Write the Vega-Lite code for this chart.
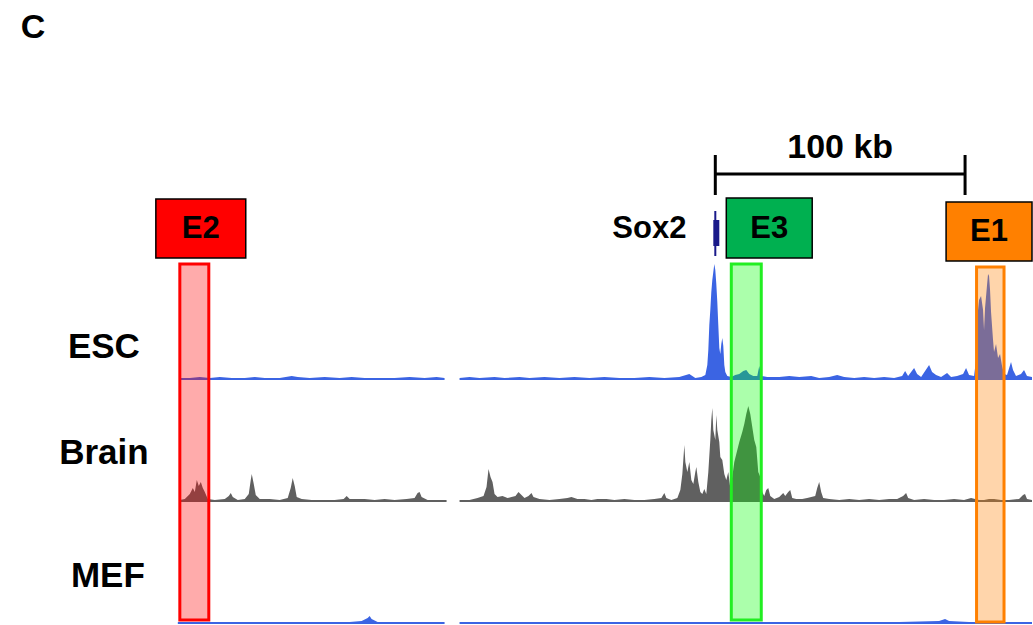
{
"$schema":"https://vega.github.io/schema/vega-lite/v6.json",
"width":1033,"height":625,"padding":0,
"autosize":{"type":"fit","contains":"padding"},
"config":{"view":{"stroke":null},"text":{"font":"Liberation Sans","fontWeight":"bold"}},
"datasets":{
"signal":[
{"track":"ESC","seg":1,"pos":72,"v":2},{"track":"ESC","seg":1,"pos":76,"v":2},{"track":"ESC","seg":1,"pos":80,"v":3},{"track":"ESC","seg":1,"pos":84,"v":2},{"track":"ESC","seg":1,"pos":88,"v":3},{"track":"ESC","seg":1,"pos":92.8,"v":2},{"track":"ESC","seg":1,"pos":98,"v":2},{"track":"ESC","seg":1,"pos":102,"v":3},{"track":"ESC","seg":1,"pos":106,"v":2},{"track":"ESC","seg":1,"pos":112,"v":2},{"track":"ESC","seg":1,"pos":116.8,"v":4},{"track":"ESC","seg":1,"pos":119.2,"v":3},{"track":"ESC","seg":1,"pos":124,"v":2},{"track":"ESC","seg":1,"pos":130,"v":3},{"track":"ESC","seg":1,"pos":136,"v":2},{"track":"ESC","seg":1,"pos":140.8,"v":3},{"track":"ESC","seg":1,"pos":146,"v":2},{"track":"ESC","seg":1,"pos":152,"v":2},{"track":"ESC","seg":1,"pos":158,"v":2},{"track":"ESC","seg":1,"pos":164,"v":3},{"track":"ESC","seg":1,"pos":170,"v":2},{"track":"ESC","seg":1,"pos":174.8,"v":3},{"track":"ESC","seg":1,"pos":178,"v":2},
{"track":"ESC","seg":2,"pos":184,"v":2},{"track":"ESC","seg":2,"pos":188,"v":3},{"track":"ESC","seg":2,"pos":192,"v":2},{"track":"ESC","seg":2,"pos":198,"v":3},{"track":"ESC","seg":2,"pos":202,"v":2},{"track":"ESC","seg":2,"pos":208,"v":3},{"track":"ESC","seg":2,"pos":212,"v":2},{"track":"ESC","seg":2,"pos":218,"v":3},{"track":"ESC","seg":2,"pos":224,"v":2},{"track":"ESC","seg":2,"pos":230,"v":3},{"track":"ESC","seg":2,"pos":236,"v":2},{"track":"ESC","seg":2,"pos":242,"v":3},{"track":"ESC","seg":2,"pos":248,"v":2},{"track":"ESC","seg":2,"pos":254,"v":2},{"track":"ESC","seg":2,"pos":260,"v":3},{"track":"ESC","seg":2,"pos":266,"v":2},{"track":"ESC","seg":2,"pos":272,"v":3},{"track":"ESC","seg":2,"pos":276,"v":6},{"track":"ESC","seg":2,"pos":278.4,"v":2},{"track":"ESC","seg":2,"pos":280.8,"v":3},{"track":"ESC","seg":2,"pos":282.4,"v":5},{"track":"ESC","seg":2,"pos":283.2,"v":15},{"track":"ESC","seg":2,"pos":283.6,"v":30},{"track":"ESC","seg":2,"pos":284,"v":55},{"track":"ESC","seg":2,"pos":284.4,"v":70},{"track":"ESC","seg":2,"pos":284.8,"v":88},{"track":"ESC","seg":2,"pos":285.2,"v":100},{"track":"ESC","seg":2,"pos":285.6,"v":108},{"track":"ESC","seg":2,"pos":286,"v":116},{"track":"ESC","seg":2,"pos":286.4,"v":110},{"track":"ESC","seg":2,"pos":286.8,"v":96},{"track":"ESC","seg":2,"pos":287.2,"v":78},{"track":"ESC","seg":2,"pos":287.6,"v":55},{"track":"ESC","seg":2,"pos":288,"v":32},{"track":"ESC","seg":2,"pos":288.4,"v":26},{"track":"ESC","seg":2,"pos":288.8,"v":36},{"track":"ESC","seg":2,"pos":289.2,"v":42},{"track":"ESC","seg":2,"pos":289.6,"v":34},{"track":"ESC","seg":2,"pos":290,"v":15},{"track":"ESC","seg":2,"pos":290.4,"v":8},{"track":"ESC","seg":2,"pos":291.2,"v":4},{"track":"ESC","seg":2,"pos":292.8,"v":3},{"track":"ESC","seg":2,"pos":294.4,"v":5},{"track":"ESC","seg":2,"pos":296,"v":6},{"track":"ESC","seg":2,"pos":297.6,"v":9},{"track":"ESC","seg":2,"pos":298.8,"v":10},{"track":"ESC","seg":2,"pos":300,"v":6},{"track":"ESC","seg":2,"pos":301.6,"v":4},{"track":"ESC","seg":2,"pos":303.2,"v":4},{"track":"ESC","seg":2,"pos":304,"v":14},{"track":"ESC","seg":2,"pos":304.8,"v":4},{"track":"ESC","seg":2,"pos":307.2,"v":3},{"track":"ESC","seg":2,"pos":312,"v":3},{"track":"ESC","seg":2,"pos":316,"v":4},{"track":"ESC","seg":2,"pos":320,"v":3},{"track":"ESC","seg":2,"pos":324.8,"v":4},{"track":"ESC","seg":2,"pos":328,"v":2},{"track":"ESC","seg":2,"pos":332,"v":3},{"track":"ESC","seg":2,"pos":335.2,"v":5},{"track":"ESC","seg":2,"pos":338,"v":3},{"track":"ESC","seg":2,"pos":342,"v":2},{"track":"ESC","seg":2,"pos":346,"v":3},{"track":"ESC","seg":2,"pos":350,"v":2},{"track":"ESC","seg":2,"pos":354,"v":3},{"track":"ESC","seg":2,"pos":358,"v":2},{"track":"ESC","seg":2,"pos":361.2,"v":4},{"track":"ESC","seg":2,"pos":362.4,"v":9},{"track":"ESC","seg":2,"pos":363.6,"v":4},{"track":"ESC","seg":2,"pos":366,"v":12},{"track":"ESC","seg":2,"pos":367.2,"v":6},{"track":"ESC","seg":2,"pos":368.8,"v":3},{"track":"ESC","seg":2,"pos":372,"v":15},{"track":"ESC","seg":2,"pos":373.2,"v":8},{"track":"ESC","seg":2,"pos":374.8,"v":5},{"track":"ESC","seg":2,"pos":376.8,"v":3},{"track":"ESC","seg":2,"pos":379.2,"v":7},{"track":"ESC","seg":2,"pos":380.8,"v":3},{"track":"ESC","seg":2,"pos":383.2,"v":4},{"track":"ESC","seg":2,"pos":385.6,"v":6},{"track":"ESC","seg":2,"pos":386.8,"v":12},{"track":"ESC","seg":2,"pos":388,"v":5},{"track":"ESC","seg":2,"pos":390,"v":4},{"track":"ESC","seg":2,"pos":390.8,"v":20},{"track":"ESC","seg":2,"pos":391.2,"v":60},{"track":"ESC","seg":2,"pos":392,"v":80},{"track":"ESC","seg":2,"pos":392.8,"v":84},{"track":"ESC","seg":2,"pos":393.6,"v":70},{"track":"ESC","seg":2,"pos":394,"v":50},{"track":"ESC","seg":2,"pos":394.4,"v":72},{"track":"ESC","seg":2,"pos":395.2,"v":95},{"track":"ESC","seg":2,"pos":395.6,"v":106},{"track":"ESC","seg":2,"pos":396,"v":104},{"track":"ESC","seg":2,"pos":396.4,"v":90},{"track":"ESC","seg":2,"pos":396.8,"v":68},{"track":"ESC","seg":2,"pos":397.6,"v":40},{"track":"ESC","seg":2,"pos":398,"v":28},{"track":"ESC","seg":2,"pos":398.8,"v":36},{"track":"ESC","seg":2,"pos":399.6,"v":22},{"track":"ESC","seg":2,"pos":400.4,"v":26},{"track":"ESC","seg":2,"pos":401.2,"v":14},{"track":"ESC","seg":2,"pos":402,"v":6},{"track":"ESC","seg":2,"pos":403.2,"v":5},{"track":"ESC","seg":2,"pos":404.8,"v":18},{"track":"ESC","seg":2,"pos":405.6,"v":10},{"track":"ESC","seg":2,"pos":406.8,"v":4},{"track":"ESC","seg":2,"pos":408.8,"v":6},{"track":"ESC","seg":2,"pos":410,"v":10},{"track":"ESC","seg":2,"pos":411.2,"v":4},{"track":"ESC","seg":2,"pos":413.2,"v":3},
{"track":"Brain","seg":1,"pos":72,"v":2},{"track":"Brain","seg":1,"pos":74,"v":3},{"track":"Brain","seg":1,"pos":76,"v":8},{"track":"Brain","seg":1,"pos":77.2,"v":14},{"track":"Brain","seg":1,"pos":78,"v":10},{"track":"Brain","seg":1,"pos":78.8,"v":22},{"track":"Brain","seg":1,"pos":79.6,"v":16},{"track":"Brain","seg":1,"pos":80.4,"v":20},{"track":"Brain","seg":1,"pos":81.2,"v":14},{"track":"Brain","seg":1,"pos":82,"v":10},{"track":"Brain","seg":1,"pos":83.2,"v":3},{"track":"Brain","seg":1,"pos":86,"v":2},{"track":"Brain","seg":1,"pos":90,"v":3},{"track":"Brain","seg":1,"pos":91.6,"v":6},{"track":"Brain","seg":1,"pos":92.4,"v":9},{"track":"Brain","seg":1,"pos":93.2,"v":5},{"track":"Brain","seg":1,"pos":95.2,"v":2},{"track":"Brain","seg":1,"pos":98,"v":3},{"track":"Brain","seg":1,"pos":99.6,"v":8},{"track":"Brain","seg":1,"pos":100.4,"v":22},{"track":"Brain","seg":1,"pos":100.8,"v":28},{"track":"Brain","seg":1,"pos":101.6,"v":18},{"track":"Brain","seg":1,"pos":102.4,"v":7},{"track":"Brain","seg":1,"pos":104,"v":3},{"track":"Brain","seg":1,"pos":108,"v":3},{"track":"Brain","seg":1,"pos":112,"v":2},{"track":"Brain","seg":1,"pos":115.2,"v":4},{"track":"Brain","seg":1,"pos":116.4,"v":14},{"track":"Brain","seg":1,"pos":117.2,"v":24},{"track":"Brain","seg":1,"pos":118,"v":16},{"track":"Brain","seg":1,"pos":118.8,"v":5},{"track":"Brain","seg":1,"pos":120.8,"v":3},{"track":"Brain","seg":1,"pos":124.8,"v":2},{"track":"Brain","seg":1,"pos":130,"v":2},{"track":"Brain","seg":1,"pos":134,"v":2},{"track":"Brain","seg":1,"pos":137.6,"v":3},{"track":"Brain","seg":1,"pos":138.8,"v":6},{"track":"Brain","seg":1,"pos":140,"v":3},{"track":"Brain","seg":1,"pos":143.2,"v":3},{"track":"Brain","seg":1,"pos":146,"v":3},{"track":"Brain","seg":1,"pos":150,"v":2},{"track":"Brain","seg":1,"pos":154,"v":3},{"track":"Brain","seg":1,"pos":158,"v":2},{"track":"Brain","seg":1,"pos":162.8,"v":3},{"track":"Brain","seg":1,"pos":166,"v":4},{"track":"Brain","seg":1,"pos":167.2,"v":9},{"track":"Brain","seg":1,"pos":168,"v":10},{"track":"Brain","seg":1,"pos":168.8,"v":5},{"track":"Brain","seg":1,"pos":171.2,"v":2},{"track":"Brain","seg":1,"pos":176,"v":2},{"track":"Brain","seg":1,"pos":178.8,"v":2},
{"track":"Brain","seg":2,"pos":184,"v":2},{"track":"Brain","seg":2,"pos":188,"v":2},{"track":"Brain","seg":2,"pos":191.2,"v":4},{"track":"Brain","seg":2,"pos":193.6,"v":6},{"track":"Brain","seg":2,"pos":194.8,"v":15},{"track":"Brain","seg":2,"pos":195.6,"v":33},{"track":"Brain","seg":2,"pos":196.4,"v":25},{"track":"Brain","seg":2,"pos":197.2,"v":20},{"track":"Brain","seg":2,"pos":198,"v":8},{"track":"Brain","seg":2,"pos":199.2,"v":5},{"track":"Brain","seg":2,"pos":201.2,"v":6},{"track":"Brain","seg":2,"pos":203.2,"v":4},{"track":"Brain","seg":2,"pos":204.8,"v":5},{"track":"Brain","seg":2,"pos":206.4,"v":6},{"track":"Brain","seg":2,"pos":207.6,"v":10},{"track":"Brain","seg":2,"pos":208.4,"v":8},{"track":"Brain","seg":2,"pos":210,"v":4},{"track":"Brain","seg":2,"pos":211.6,"v":6},{"track":"Brain","seg":2,"pos":212.8,"v":9},{"track":"Brain","seg":2,"pos":213.6,"v":5},{"track":"Brain","seg":2,"pos":216,"v":3},{"track":"Brain","seg":2,"pos":220,"v":2},{"track":"Brain","seg":2,"pos":224,"v":3},{"track":"Brain","seg":2,"pos":227.2,"v":4},{"track":"Brain","seg":2,"pos":228.8,"v":5},{"track":"Brain","seg":2,"pos":231.2,"v":3},{"track":"Brain","seg":2,"pos":234,"v":3},{"track":"Brain","seg":2,"pos":236.8,"v":2},{"track":"Brain","seg":2,"pos":239.2,"v":3},{"track":"Brain","seg":2,"pos":242.8,"v":3},{"track":"Brain","seg":2,"pos":246,"v":2},{"track":"Brain","seg":2,"pos":250,"v":3},{"track":"Brain","seg":2,"pos":254,"v":2},{"track":"Brain","seg":2,"pos":258,"v":2},{"track":"Brain","seg":2,"pos":262,"v":3},{"track":"Brain","seg":2,"pos":264.8,"v":4},{"track":"Brain","seg":2,"pos":266,"v":9},{"track":"Brain","seg":2,"pos":266.8,"v":4},{"track":"Brain","seg":2,"pos":268.8,"v":2},{"track":"Brain","seg":2,"pos":271.2,"v":4},{"track":"Brain","seg":2,"pos":272.4,"v":12},{"track":"Brain","seg":2,"pos":273.2,"v":28},{"track":"Brain","seg":2,"pos":274,"v":57},{"track":"Brain","seg":2,"pos":274.4,"v":40},{"track":"Brain","seg":2,"pos":275.2,"v":30},{"track":"Brain","seg":2,"pos":276,"v":40},{"track":"Brain","seg":2,"pos":276.8,"v":22},{"track":"Brain","seg":2,"pos":277.6,"v":18},{"track":"Brain","seg":2,"pos":278.4,"v":30},{"track":"Brain","seg":2,"pos":278.8,"v":35},{"track":"Brain","seg":2,"pos":279.6,"v":20},{"track":"Brain","seg":2,"pos":280.4,"v":10},{"track":"Brain","seg":2,"pos":281.2,"v":8},{"track":"Brain","seg":2,"pos":282,"v":13},{"track":"Brain","seg":2,"pos":282.8,"v":8},{"track":"Brain","seg":2,"pos":283.6,"v":30},{"track":"Brain","seg":2,"pos":284.4,"v":62},{"track":"Brain","seg":2,"pos":284.8,"v":82},{"track":"Brain","seg":2,"pos":285.2,"v":94},{"track":"Brain","seg":2,"pos":285.6,"v":72},{"track":"Brain","seg":2,"pos":286.4,"v":62},{"track":"Brain","seg":2,"pos":286.8,"v":87},{"track":"Brain","seg":2,"pos":287.2,"v":72},{"track":"Brain","seg":2,"pos":288,"v":60},{"track":"Brain","seg":2,"pos":288.4,"v":45},{"track":"Brain","seg":2,"pos":289.2,"v":42},{"track":"Brain","seg":2,"pos":290,"v":28},{"track":"Brain","seg":2,"pos":290.8,"v":22},{"track":"Brain","seg":2,"pos":291.6,"v":30},{"track":"Brain","seg":2,"pos":292.4,"v":14},{"track":"Brain","seg":2,"pos":293.2,"v":25},{"track":"Brain","seg":2,"pos":294,"v":40},{"track":"Brain","seg":2,"pos":294.8,"v":48},{"track":"Brain","seg":2,"pos":296,"v":60},{"track":"Brain","seg":2,"pos":297.2,"v":70},{"track":"Brain","seg":2,"pos":298,"v":78},{"track":"Brain","seg":2,"pos":298.8,"v":88},{"track":"Brain","seg":2,"pos":299.6,"v":96},{"track":"Brain","seg":2,"pos":300.4,"v":88},{"track":"Brain","seg":2,"pos":301.2,"v":75},{"track":"Brain","seg":2,"pos":302,"v":62},{"track":"Brain","seg":2,"pos":302.8,"v":55},{"track":"Brain","seg":2,"pos":303.6,"v":30},{"track":"Brain","seg":2,"pos":304.4,"v":25},{"track":"Brain","seg":2,"pos":305.2,"v":10},{"track":"Brain","seg":2,"pos":306,"v":6},{"track":"Brain","seg":2,"pos":306.8,"v":12},{"track":"Brain","seg":2,"pos":307.6,"v":14},{"track":"Brain","seg":2,"pos":308.4,"v":6},{"track":"Brain","seg":2,"pos":310,"v":3},{"track":"Brain","seg":2,"pos":312,"v":5},{"track":"Brain","seg":2,"pos":313.6,"v":9},{"track":"Brain","seg":2,"pos":314.4,"v":6},{"track":"Brain","seg":2,"pos":315.6,"v":10},{"track":"Brain","seg":2,"pos":316.4,"v":12},{"track":"Brain","seg":2,"pos":317.2,"v":4},{"track":"Brain","seg":2,"pos":318.8,"v":3},{"track":"Brain","seg":2,"pos":321.2,"v":3},{"track":"Brain","seg":2,"pos":323.2,"v":4},{"track":"Brain","seg":2,"pos":324.8,"v":5},{"track":"Brain","seg":2,"pos":326.4,"v":6},{"track":"Brain","seg":2,"pos":327.2,"v":14},{"track":"Brain","seg":2,"pos":328,"v":20},{"track":"Brain","seg":2,"pos":328.8,"v":10},{"track":"Brain","seg":2,"pos":329.6,"v":4},{"track":"Brain","seg":2,"pos":332,"v":3},{"track":"Brain","seg":2,"pos":336,"v":2},{"track":"Brain","seg":2,"pos":340,"v":3},{"track":"Brain","seg":2,"pos":344,"v":2},{"track":"Brain","seg":2,"pos":348,"v":3},{"track":"Brain","seg":2,"pos":352,"v":2},{"track":"Brain","seg":2,"pos":356,"v":3},{"track":"Brain","seg":2,"pos":359.2,"v":3},{"track":"Brain","seg":2,"pos":361.6,"v":6},{"track":"Brain","seg":2,"pos":362.8,"v":9},{"track":"Brain","seg":2,"pos":363.6,"v":4},{"track":"Brain","seg":2,"pos":366,"v":2},{"track":"Brain","seg":2,"pos":370,"v":3},{"track":"Brain","seg":2,"pos":374,"v":2},{"track":"Brain","seg":2,"pos":378,"v":2},{"track":"Brain","seg":2,"pos":382,"v":3},{"track":"Brain","seg":2,"pos":386,"v":2},{"track":"Brain","seg":2,"pos":388.8,"v":4},{"track":"Brain","seg":2,"pos":392,"v":2},{"track":"Brain","seg":2,"pos":394,"v":2},{"track":"Brain","seg":2,"pos":396,"v":3},{"track":"Brain","seg":2,"pos":398,"v":3},{"track":"Brain","seg":2,"pos":400.8,"v":2},{"track":"Brain","seg":2,"pos":404,"v":2},{"track":"Brain","seg":2,"pos":408,"v":3},{"track":"Brain","seg":2,"pos":409.6,"v":7},{"track":"Brain","seg":2,"pos":410.4,"v":8},{"track":"Brain","seg":2,"pos":411.2,"v":3},{"track":"Brain","seg":2,"pos":413.2,"v":2},
{"track":"MEF","seg":1,"pos":71.2,"v":2},{"track":"MEF","seg":1,"pos":80,"v":2},{"track":"MEF","seg":1,"pos":92,"v":2},{"track":"MEF","seg":1,"pos":104,"v":2},{"track":"MEF","seg":1,"pos":116,"v":2},{"track":"MEF","seg":1,"pos":128,"v":2},{"track":"MEF","seg":1,"pos":140,"v":2},{"track":"MEF","seg":1,"pos":144.8,"v":3},{"track":"MEF","seg":1,"pos":147.2,"v":6},{"track":"MEF","seg":1,"pos":148,"v":8},{"track":"MEF","seg":1,"pos":148.8,"v":5},{"track":"MEF","seg":1,"pos":151.2,"v":2},{"track":"MEF","seg":1,"pos":160,"v":2},{"track":"MEF","seg":1,"pos":168,"v":2},{"track":"MEF","seg":1,"pos":178,"v":2},
{"track":"MEF","seg":2,"pos":184,"v":2},{"track":"MEF","seg":2,"pos":200,"v":2},{"track":"MEF","seg":2,"pos":216,"v":2},{"track":"MEF","seg":2,"pos":232,"v":2},{"track":"MEF","seg":2,"pos":248,"v":2},{"track":"MEF","seg":2,"pos":264,"v":2},{"track":"MEF","seg":2,"pos":280,"v":2},{"track":"MEF","seg":2,"pos":296,"v":2},{"track":"MEF","seg":2,"pos":312,"v":2},{"track":"MEF","seg":2,"pos":328,"v":2},{"track":"MEF","seg":2,"pos":344,"v":2},{"track":"MEF","seg":2,"pos":360,"v":2},{"track":"MEF","seg":2,"pos":376,"v":3},{"track":"MEF","seg":2,"pos":378.4,"v":5},{"track":"MEF","seg":2,"pos":380,"v":3},{"track":"MEF","seg":2,"pos":388,"v":2},{"track":"MEF","seg":2,"pos":400,"v":2},{"track":"MEF","seg":2,"pos":413.2,"v":2}
],
"regions":[
{"name":"E2","start":72,"end":83.6,"top":264,"bottom":620,"lstart":62.4,"lend":98.4,"ltop":199,"lbottom":258,"lx":80.4,"lmid":229},
{"name":"E3","start":292.8,"end":304.8,"top":264,"bottom":620,"lstart":290.8,"lend":325.2,"ltop":198,"lbottom":258,"lx":308,"lmid":229},
{"name":"E1","start":391,"end":402,"top":267,"bottom":622,"lstart":378.8,"lend":413.2,"ltop":202,"lbottom":261,"lx":396,"lmid":232}
],
"tracks":[
{"label":"ESC","pos":41.6,"row":347},
{"label":"Brain","pos":41.6,"row":453},
{"label":"MEF","pos":43.2,"row":576}
],
"scalebar":[
{"a":286.4,"b":386.4,"r1":174,"r2":174},
{"a":286.4,"b":286.4,"r1":155,"r2":195},
{"a":386.4,"b":386.4,"r1":155,"r2":195}
],
"gene":[{"name":"Sox2","pos":286.4,"start":285.6,"end":288,"r1":211,"r2":256,"t1":220,"t2":246,"lpos":260,"lrow":229}],
"misc":[{"text":"C","pos":13.2,"row":28},{"text":"100 kb","pos":336.4,"row":148}]
},
"resolve":{"scale":{"y":"independent"}},
"layer":[
{"data":{"name":"signal"},"transform":[{"filter":"datum.track === 'ESC'"}],
 "mark":{"type":"area","color":"#3b64e3","interpolate":"linear"},
 "encoding":{"x":{"field":"pos","type":"quantitative","scale":{"domain":[0,413.2],"nice":false,"zero":false},"axis":null},
  "y":{"field":"v","type":"quantitative","scale":{"domain":[-245,380],"nice":false,"zero":false},"axis":null},
  "y2":{"datum":0},"detail":{"field":"seg"}}},
{"data":{"name":"signal"},"transform":[{"filter":"datum.track === 'Brain'"}],
 "mark":{"type":"area","color":"#606060","interpolate":"linear"},
 "encoding":{"x":{"field":"pos","type":"quantitative"},
  "y":{"field":"v","type":"quantitative","scale":{"domain":[-123,502],"nice":false,"zero":false},"axis":null},
  "y2":{"datum":0},"detail":{"field":"seg"}}},
{"data":{"name":"signal"},"transform":[{"filter":"datum.track === 'MEF'"}],
 "mark":{"type":"area","color":"#3b64e3","interpolate":"linear"},
 "encoding":{"x":{"field":"pos","type":"quantitative"},
  "y":{"field":"v","type":"quantitative","scale":{"domain":[-1,624],"nice":false,"zero":false},"axis":null},
  "y2":{"datum":0},"detail":{"field":"seg"}}},
{"data":{"name":"regions"},"layer":[
 {"mark":{"type":"rect","fillOpacity":0.33,"strokeWidth":3,"strokeOpacity":1},
  "encoding":{"x":{"field":"start","type":"quantitative"},"x2":{"field":"end"},
   "y":{"field":"top","type":"quantitative","scale":{"domain":[0,625],"reverse":true,"nice":false,"zero":false},"axis":null},"y2":{"field":"bottom"},
   "fill":{"field":"name","type":"nominal","scale":{"domain":["E2","E3","E1"],"range":["#ff0000","#00ff00","#ff8000"]},"legend":null},
   "stroke":{"field":"name","type":"nominal","scale":{"domain":["E2","E3","E1"],"range":["#ff0000","#22ee22","#ff8000"]},"legend":null}}},
 {"mark":{"type":"rect","stroke":"#000000","strokeWidth":1.5},
  "encoding":{"x":{"field":"lstart","type":"quantitative"},"x2":{"field":"lend"},
   "y":{"field":"ltop","type":"quantitative","scale":{"domain":[0,625],"reverse":true,"nice":false,"zero":false},"axis":null},"y2":{"field":"lbottom"},
   "color":{"field":"name","type":"nominal","scale":{"domain":["E2","E3","E1"],"range":["#ff0000","#00b050","#ff8000"]},"legend":null}}},
 {"mark":{"type":"text","fontSize":31,"color":"#000000","align":"center","baseline":"middle"},
  "encoding":{"x":{"field":"lx","type":"quantitative"},
   "y":{"field":"lmid","type":"quantitative","scale":{"domain":[0,625],"reverse":true,"nice":false,"zero":false},"axis":null},
   "text":{"field":"name"}}}
]},
{"data":{"name":"tracks"},"mark":{"type":"text","fontSize":35,"color":"#000000","align":"center","baseline":"middle"},
 "encoding":{"x":{"field":"pos","type":"quantitative"},
  "y":{"field":"row","type":"quantitative","scale":{"domain":[0,625],"reverse":true,"nice":false,"zero":false},"axis":null},
  "text":{"field":"label"}}},
{"data":{"name":"misc"},"mark":{"type":"text","fontSize":34,"color":"#000000","align":"center","baseline":"middle"},
 "encoding":{"x":{"field":"pos","type":"quantitative"},
  "y":{"field":"row","type":"quantitative","scale":{"domain":[0,625],"reverse":true,"nice":false,"zero":false},"axis":null},
  "text":{"field":"text"}}},
{"data":{"name":"scalebar"},"mark":{"type":"rule","color":"#000000","strokeWidth":3},
 "encoding":{"x":{"field":"a","type":"quantitative"},"x2":{"field":"b"},
  "y":{"field":"r1","type":"quantitative","scale":{"domain":[0,625],"reverse":true,"nice":false,"zero":false},"axis":null},"y2":{"field":"r2"}}},
{"data":{"name":"gene"},"layer":[
 {"mark":{"type":"rule","color":"#1a1a8a","strokeWidth":2},
  "encoding":{"x":{"field":"pos","type":"quantitative"},
   "y":{"field":"r1","type":"quantitative","scale":{"domain":[0,625],"reverse":true,"nice":false,"zero":false},"axis":null},"y2":{"field":"r2"}}},
 {"mark":{"type":"rect","color":"#1a1a8a"},
  "encoding":{"x":{"field":"start","type":"quantitative"},"x2":{"field":"end"},
   "y":{"field":"t1","type":"quantitative","scale":{"domain":[0,625],"reverse":true,"nice":false,"zero":false},"axis":null},"y2":{"field":"t2"}}},
 {"mark":{"type":"text","fontSize":31,"color":"#000000","align":"center","baseline":"middle"},
  "encoding":{"x":{"field":"lpos","type":"quantitative"},
   "y":{"field":"lrow","type":"quantitative","scale":{"domain":[0,625],"reverse":true,"nice":false,"zero":false},"axis":null},
   "text":{"field":"name"}}}
]}
]
}
